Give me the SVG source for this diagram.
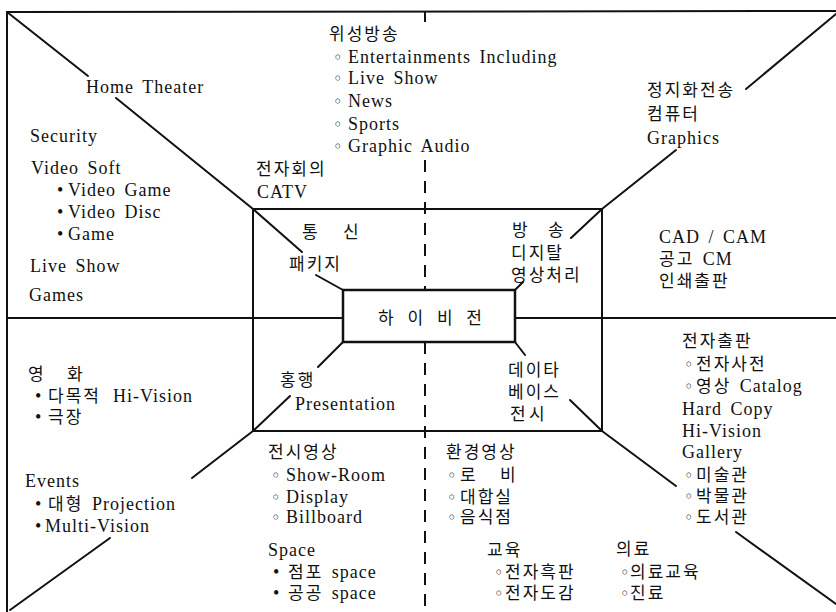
<svg xmlns="http://www.w3.org/2000/svg" width="836" height="612" viewBox="0 0 836 612">
<style>
.t{font-family:"Liberation Serif","Noto Sans CJK KR",serif;font-size:18px;letter-spacing:1px;word-spacing:3px;fill:#111}
.k{font-family:"Noto Sans CJK KR","Liberation Serif",sans-serif;font-size:17px;letter-spacing:2px}
.b{font-family:"DejaVu Sans",sans-serif;font-size:16px;fill:#111}
.ln{stroke:#111;stroke-width:2;fill:none;stroke-linecap:round}
.dash{stroke:#111;stroke-width:2;fill:none;stroke-dasharray:12 9}
</style>
<rect width="836" height="612" fill="#fff"/>
<g id="connectors">
<path class="ln" d="M7,12 L836,11 M7,12 L7,612"/>
<path class="ln" d="M253,209 H602 V431 H253 Z"/>
<path class="ln" d="M7,318 H343 M515,318 H836"/>
<rect x="343" y="290" width="172" height="52" fill="none" stroke="#111" stroke-width="2.5"/>
<path class="ln" d="M7,12 L88,76 M116,98 L253,209"/>
<path class="ln" d="M253,209 L302,252 M316,275 L343,290"/>
<path class="ln" d="M836,14 L746,89 M676,150 L602,209"/>
<path class="ln" d="M602,209 L571,238 M523,282 L515,290"/>
<path class="ln" d="M253,431 L192,478 M110,538 L10,610"/>
<path class="ln" d="M343,342 L318,367 M290,396 L253,431"/>
<path class="ln" d="M515,342 L525,355 M570,400 L602,431"/>
<path class="ln" d="M602,431 L676,486 M736,532 L836,604"/>
<path class="dash" d="M425,12 V22 M425,160 V290 M425,342 V612"/>
</g>
<g id="home-av">
<text class="t" x="86" y="93">Home Theater</text>
<text class="t" x="30" y="142">Security</text>
<text class="t" x="31" y="174">Video Soft</text>
<text class="t" y="196"><tspan x="57">•</tspan><tspan x="68">Video Game</tspan></text>
<text class="t" y="218"><tspan x="57">•</tspan><tspan x="68">Video Disc</tspan></text>
<text class="t" y="240"><tspan x="57">•</tspan><tspan x="68">Game</tspan></text>
<text class="t" x="30" y="272">Live Show</text>
<text class="t" x="29" y="301">Games</text>
</g>
<g id="satellite">
<text class="t k" x="329" y="40">위성방송</text>
<text class="t" y="63"><tspan class="b" x="333">◦</tspan><tspan x="348">Entertainments Including</tspan></text>
<text class="t" y="84"><tspan class="b" x="333">◦</tspan><tspan x="348">Live Show</tspan></text>
<text class="t" y="107"><tspan class="b" x="333">◦</tspan><tspan x="348">News</tspan></text>
<text class="t" y="130"><tspan class="b" x="333">◦</tspan><tspan x="348">Sports</tspan></text>
<text class="t" y="152"><tspan class="b" x="333">◦</tspan><tspan x="348">Graphic Audio</tspan></text>
</g>
<g id="conference">
<text class="t k" x="256" y="175">전자회의</text>
<text class="t" x="257" y="198">CATV</text>
</g>
<g id="still-image">
<text class="t k" x="647" y="96">정지화전송</text>
<text class="t k" x="647" y="120">컴퓨터</text>
<text class="t" x="647" y="144">Graphics</text>
</g>
<g id="cad">
<text class="t" x="659" y="243">CAD / CAM</text>
<text class="t" x="659" y="265"><tspan class="k">공고</tspan> CM</text>
<text class="t k" x="659" y="287">인쇄출판</text>
</g>
<g id="telecom">
<text class="t k" y="238" x="302 321 343">통 신</text>
<text class="t k" x="289" y="270">패키지</text>
</g>
<g id="broadcast">
<text class="t k" y="236" x="512 531 548">방 송</text>
<text class="t k" x="511" y="259">디지탈</text>
<text class="t k" x="511" y="281">영상처리</text>
</g>
<g id="hivision">
<text class="t k" x="378" y="324" style="letter-spacing:3.5px">하 이 비 전</text>
</g>
<g id="promotion">
<text class="t k" x="280" y="386">홍행</text>
<text class="t" x="295" y="410">Presentation</text>
</g>
<g id="database">
<text class="t k" x="508" y="376">데이타</text>
<text class="t k" x="508" y="398">베이스</text>
<text class="t k" x="510 529" y="420">전시</text>
</g>
<g id="e-publishing">
<text class="t k" x="682" y="347">전자출판</text>
<text class="t" y="370"><tspan class="b" x="684">◦</tspan><tspan class="k" x="696">전자사전</tspan></text>
<text class="t" y="392"><tspan class="b" x="684">◦</tspan><tspan class="k" x="696">영상</tspan> Catalog</text>
<text class="t" x="682" y="415">Hard Copy</text>
<text class="t" x="682" y="437">Hi-Vision</text>
<text class="t" x="682" y="458">Gallery</text>
<text class="t" y="481"><tspan class="b" x="684">◦</tspan><tspan class="k" x="696">미술관</tspan></text>
<text class="t" y="502"><tspan class="b" x="684">◦</tspan><tspan class="k" x="696">박물관</tspan></text>
<text class="t" y="523"><tspan class="b" x="684">◦</tspan><tspan class="k" x="696">도서관</tspan></text>
</g>
<g id="movie">
<text class="t k" y="380" x="28 47 67">영 화</text>
<text class="t" y="402"><tspan x="35">•</tspan><tspan class="k" x="48">다목적</tspan><tspan x="113">Hi-Vision</tspan></text>
<text class="t" y="423"><tspan x="35">•</tspan><tspan class="k" x="48">극장</tspan></text>
</g>
<g id="events">
<text class="t" x="25" y="487">Events</text>
<text class="t" y="510"><tspan x="35">•</tspan><tspan class="k" x="48">대형</tspan><tspan x="92">Projection</tspan></text>
<text class="t" y="532"><tspan x="35">•</tspan><tspan x="45">Multi-Vision</tspan></text>
</g>
<g id="exhibition">
<text class="t k" x="268" y="458">전시영상</text>
<text class="t" y="481"><tspan class="b" x="271">◦</tspan><tspan x="286">Show-Room</tspan></text>
<text class="t" y="503"><tspan class="b" x="271">◦</tspan><tspan x="286">Display</tspan></text>
<text class="t" y="523"><tspan class="b" x="271">◦</tspan><tspan x="286">Billboard</tspan></text>
<text class="t" x="268" y="556">Space</text>
<text class="t" y="578"><tspan x="273">•</tspan><tspan class="k" x="288">점포</tspan> space</text>
<text class="t" y="599"><tspan x="273">•</tspan><tspan class="k" x="288">공공</tspan> space</text>
</g>
<g id="environment">
<text class="t k" x="446" y="458">환경영상</text>
<text class="t" y="481"><tspan class="b" x="447">◦</tspan><tspan class="k" x="460 479 500">로 비</tspan></text>
<text class="t" y="503"><tspan class="b" x="447">◦</tspan><tspan class="k" x="460">대합실</tspan></text>
<text class="t" y="523"><tspan class="b" x="447">◦</tspan><tspan class="k" x="460">음식점</tspan></text>
</g>
<g id="education">
<text class="t k" x="487" y="556">교육</text>
<text class="t" y="578"><tspan class="b" x="494">◦</tspan><tspan class="k" x="505">전자흑판</tspan></text>
<text class="t" y="599"><tspan class="b" x="494">◦</tspan><tspan class="k" x="505">전자도감</tspan></text>
</g>
<g id="medical">
<text class="t k" x="616" y="555">의료</text>
<text class="t" y="578"><tspan class="b" x="620">◦</tspan><tspan class="k" x="630">의료교육</tspan></text>
<text class="t" y="599"><tspan class="b" x="620">◦</tspan><tspan class="k" x="630">진료</tspan></text>
</g>
</svg>
